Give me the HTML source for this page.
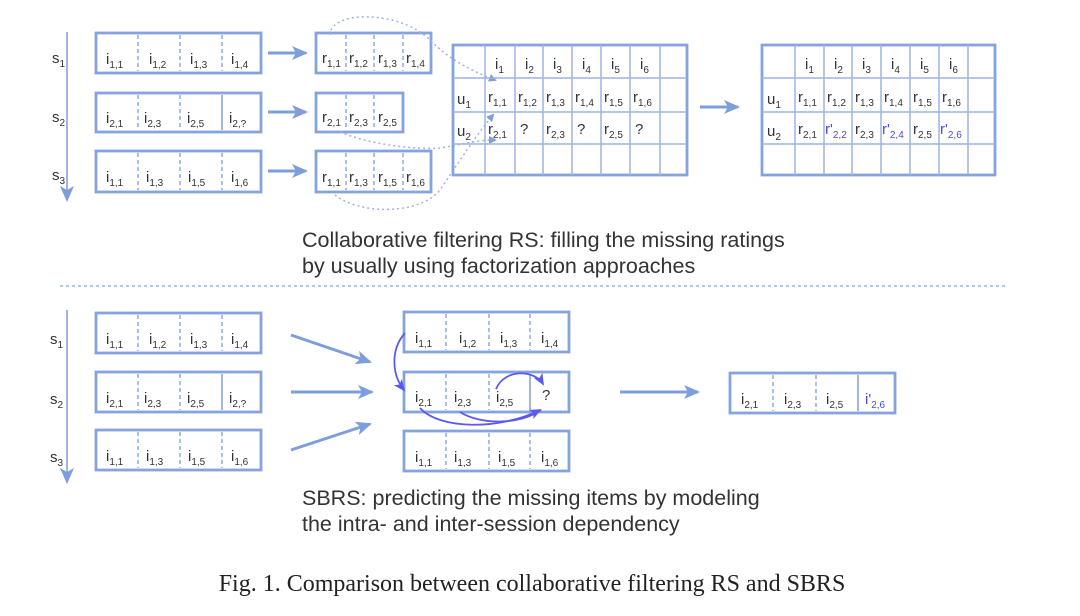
<!DOCTYPE html>
<html><head><meta charset="utf-8"><style>
html,body{margin:0;padding:0;background:#fff;}
svg{display:block;}
text{font-family:"Liberation Sans",Arial,sans-serif;fill:#333;}
.c{font-size:15px;}
.s{font-size:10px;}
.b{fill:#4a4ae8;}
.bx{fill:none;stroke:#85a3de;stroke-width:2.8;}
.dv{stroke:#7d9ddb;stroke-width:1.3;stroke-dasharray:4 3;}
.sd{stroke:#7d9ddb;stroke-width:1.5;}
.gl{stroke:#9db3e3;stroke-width:1.5;}
.ar{stroke:#7d9ddb;stroke-width:3;fill:none;}
.dot{stroke:#9db3e3;stroke-width:1.5;stroke-dasharray:2 3;fill:none;}
.pa{stroke:#5a5af0;stroke-width:1.8;fill:none;}
.cap{font-size:21.5px;}
</style></head><body>
<svg width="1080" height="616" viewBox="0 0 1080 616" xmlns="http://www.w3.org/2000/svg">
<defs>
<marker id="ah" markerWidth="8" markerHeight="8" refX="6" refY="4" orient="auto" markerUnits="userSpaceOnUse"><path d="M0,0 L8,4 L0,8 z" fill="#7d9ddb"/></marker>
<marker id="ahb" markerWidth="16" markerHeight="14" refX="14" refY="7" orient="auto" markerUnits="userSpaceOnUse"><path d="M0,0 L16,7 L0,14 L4,7 z" fill="#7d9ddb"/></marker>
<marker id="ahp" markerWidth="12" markerHeight="10" refX="10" refY="5" orient="auto" markerUnits="userSpaceOnUse"><path d="M0,0 L12,5 L0,10 L3,5 z" fill="#5a5af0"/></marker>
</defs>

<!-- TOP SECTION -->
<line x1="67" y1="32" x2="67" y2="200" class="sd" marker-end="url(#ahb)"/>
<text x="52" y="63" class="c">s<tspan class="s" dy="4">1</tspan></text>
<text x="52" y="122" class="c">s<tspan class="s" dy="4">2</tspan></text>
<text x="52" y="180" class="c">s<tspan class="s" dy="4">3</tspan></text>

<rect x="96" y="33" width="165" height="40" class="bx"/>
<line x1="138" y1="35" x2="138" y2="71" class="dv"/><line x1="180" y1="35" x2="180" y2="71" class="dv"/><line x1="222" y1="35" x2="222" y2="71" class="dv"/>
<text x="106" y="64" class="c">i<tspan class="s" dy="4">1,1</tspan></text>
<text x="149" y="64" class="c">i<tspan class="s" dy="4">1,2</tspan></text>
<text x="190" y="64" class="c">i<tspan class="s" dy="4">1,3</tspan></text>
<text x="231" y="64" class="c">i<tspan class="s" dy="4">1,4</tspan></text>

<rect x="96" y="93" width="165" height="39" class="bx"/>
<line x1="138" y1="95" x2="138" y2="130" class="dv"/><line x1="180" y1="95" x2="180" y2="130" class="dv"/><line x1="222" y1="95" x2="222" y2="130" class="sd"/>
<text x="106" y="123" class="c">i<tspan class="s" dy="4">2,1</tspan></text>
<text x="144" y="123" class="c">i<tspan class="s" dy="4">2,3</tspan></text>
<text x="187" y="123" class="c">i<tspan class="s" dy="4">2,5</tspan></text>
<text x="229" y="123" class="c">i<tspan class="s" dy="4">2,?</tspan></text>

<rect x="96" y="151" width="165" height="41" class="bx"/>
<line x1="138" y1="153" x2="138" y2="190" class="dv"/><line x1="180" y1="153" x2="180" y2="190" class="dv"/><line x1="222" y1="153" x2="222" y2="190" class="dv"/>
<text x="106" y="182" class="c">i<tspan class="s" dy="4">1,1</tspan></text>
<text x="146" y="182" class="c">i<tspan class="s" dy="4">1,3</tspan></text>
<text x="188" y="182" class="c">i<tspan class="s" dy="4">1,5</tspan></text>
<text x="231" y="182" class="c">i<tspan class="s" dy="4">1,6</tspan></text>

<line x1="268" y1="53" x2="306" y2="53" class="ar" marker-end="url(#ahb)"/>
<line x1="268" y1="112" x2="306" y2="112" class="ar" marker-end="url(#ahb)"/>
<line x1="268" y1="171" x2="306" y2="171" class="ar" marker-end="url(#ahb)"/>

<rect x="316" y="33" width="115" height="40" class="bx"/>
<line x1="346" y1="35" x2="346" y2="71" class="dv"/><line x1="374" y1="35" x2="374" y2="71" class="dv"/><line x1="403" y1="35" x2="403" y2="71" class="dv"/>
<text x="322" y="63" class="c">r<tspan class="s" dy="4">1,1</tspan></text>
<text x="349" y="63" class="c">r<tspan class="s" dy="4">1,2</tspan></text>
<text x="378" y="63" class="c">r<tspan class="s" dy="4">1,3</tspan></text>
<text x="406" y="63" class="c">r<tspan class="s" dy="4">1,4</tspan></text>

<rect x="316" y="93" width="87" height="39" class="bx"/>
<line x1="346" y1="95" x2="346" y2="130" class="dv"/><line x1="374" y1="95" x2="374" y2="130" class="dv"/>
<text x="322" y="122" class="c">r<tspan class="s" dy="4">2,1</tspan></text>
<text x="349" y="122" class="c">r<tspan class="s" dy="4">2,3</tspan></text>
<text x="378" y="122" class="c">r<tspan class="s" dy="4">2,5</tspan></text>

<rect x="316" y="151" width="115" height="41" class="bx"/>
<line x1="346" y1="153" x2="346" y2="190" class="dv"/><line x1="374" y1="153" x2="374" y2="190" class="dv"/><line x1="403" y1="153" x2="403" y2="190" class="dv"/>
<text x="322" y="182" class="c">r<tspan class="s" dy="4">1,1</tspan></text>
<text x="349" y="182" class="c">r<tspan class="s" dy="4">1,3</tspan></text>
<text x="378" y="182" class="c">r<tspan class="s" dy="4">1,5</tspan></text>
<text x="406" y="182" class="c">r<tspan class="s" dy="4">1,6</tspan></text>

<!-- dotted connectors -->
<path d="M330,35 C330,10 400,10 430,40 C450,60 470,70 495,80" class="dot" marker-end="url(#ah)"/>
<path d="M340,132 C370,145 420,150 440,148 C460,145 475,140 495,140" class="dot" marker-end="url(#ah)"/>
<path d="M335,195 C360,215 420,215 440,190 C460,160 480,130 493,115" class="dot" marker-end="url(#ah)"/>

<!-- Matrix 1 -->
<rect x="453" y="45" width="234" height="130" class="bx"/>
<g class="gl">
<line x1="485" y1="45" x2="485" y2="175"/><line x1="515" y1="45" x2="515" y2="175"/><line x1="543" y1="45" x2="543" y2="175"/><line x1="572" y1="45" x2="572" y2="175"/><line x1="601" y1="45" x2="601" y2="175"/><line x1="630" y1="45" x2="630" y2="175"/><line x1="660" y1="45" x2="660" y2="175"/>
<line x1="453" y1="78" x2="687" y2="78"/><line x1="453" y1="112" x2="687" y2="112"/><line x1="453" y1="144" x2="687" y2="144"/>
</g>
<text x="495" y="69" class="c">i<tspan class="s" dy="4">1</tspan></text>
<text x="525" y="69" class="c">i<tspan class="s" dy="4">2</tspan></text>
<text x="553" y="69" class="c">i<tspan class="s" dy="4">3</tspan></text>
<text x="582" y="69" class="c">i<tspan class="s" dy="4">4</tspan></text>
<text x="611" y="69" class="c">i<tspan class="s" dy="4">5</tspan></text>
<text x="640" y="69" class="c">i<tspan class="s" dy="4">6</tspan></text>
<text x="457" y="104" class="c">u<tspan class="s" dy="4">1</tspan></text>
<text x="488" y="102" class="c">r<tspan class="s" dy="4">1,1</tspan></text>
<text x="518" y="102" class="c">r<tspan class="s" dy="4">1,2</tspan></text>
<text x="546" y="102" class="c">r<tspan class="s" dy="4">1,3</tspan></text>
<text x="575" y="102" class="c">r<tspan class="s" dy="4">1,4</tspan></text>
<text x="604" y="102" class="c">r<tspan class="s" dy="4">1,5</tspan></text>
<text x="633" y="102" class="c">r<tspan class="s" dy="4">1,6</tspan></text>
<text x="457" y="136" class="c">u<tspan class="s" dy="4">2</tspan></text>
<text x="488" y="134" class="c">r<tspan class="s" dy="4">2,1</tspan></text>
<text x="520" y="134" class="c">?</text>
<text x="546" y="134" class="c">r<tspan class="s" dy="4">2,3</tspan></text>
<text x="577" y="134" class="c">?</text>
<text x="604" y="134" class="c">r<tspan class="s" dy="4">2,5</tspan></text>
<text x="635" y="134" class="c">?</text>

<line x1="700" y1="107" x2="738" y2="107" class="ar" marker-end="url(#ahb)"/>

<!-- Matrix 2 -->
<rect x="762" y="45" width="233" height="130" class="bx"/>
<g class="gl">
<line x1="795" y1="45" x2="795" y2="175"/><line x1="824" y1="45" x2="824" y2="175"/><line x1="852" y1="45" x2="852" y2="175"/><line x1="881" y1="45" x2="881" y2="175"/><line x1="910" y1="45" x2="910" y2="175"/><line x1="939" y1="45" x2="939" y2="175"/><line x1="968" y1="45" x2="968" y2="175"/>
<line x1="762" y1="78" x2="995" y2="78"/><line x1="762" y1="112" x2="995" y2="112"/><line x1="762" y1="144" x2="995" y2="144"/>
</g>
<text x="805" y="69" class="c">i<tspan class="s" dy="4">1</tspan></text>
<text x="834" y="69" class="c">i<tspan class="s" dy="4">2</tspan></text>
<text x="862" y="69" class="c">i<tspan class="s" dy="4">3</tspan></text>
<text x="891" y="69" class="c">i<tspan class="s" dy="4">4</tspan></text>
<text x="920" y="69" class="c">i<tspan class="s" dy="4">5</tspan></text>
<text x="949" y="69" class="c">i<tspan class="s" dy="4">6</tspan></text>
<text x="767" y="104" class="c">u<tspan class="s" dy="4">1</tspan></text>
<text x="798" y="102" class="c">r<tspan class="s" dy="4">1,1</tspan></text>
<text x="827" y="102" class="c">r<tspan class="s" dy="4">1,2</tspan></text>
<text x="855" y="102" class="c">r<tspan class="s" dy="4">1,3</tspan></text>
<text x="884" y="102" class="c">r<tspan class="s" dy="4">1,4</tspan></text>
<text x="913" y="102" class="c">r<tspan class="s" dy="4">1,5</tspan></text>
<text x="942" y="102" class="c">r<tspan class="s" dy="4">1,6</tspan></text>
<text x="767" y="136" class="c">u<tspan class="s" dy="4">2</tspan></text>
<text x="798" y="134" class="c">r<tspan class="s" dy="4">2,1</tspan></text>
<text x="825" y="134" class="c b">r'<tspan class="s b" dy="4">2,2</tspan></text>
<text x="855" y="134" class="c">r<tspan class="s" dy="4">2,3</tspan></text>
<text x="882" y="134" class="c b">r'<tspan class="s b" dy="4">2,4</tspan></text>
<text x="913" y="134" class="c">r<tspan class="s" dy="4">2,5</tspan></text>
<text x="940" y="134" class="c b">r'<tspan class="s b" dy="4">2,6</tspan></text>

<text x="302" y="247" class="cap">Collaborative filtering RS: filling the missing ratings</text>
<text x="302" y="273" class="cap">by usually using factorization approaches</text>

<line x1="60" y1="286" x2="1005" y2="286" stroke="#9db3e3" stroke-width="1.5" stroke-dasharray="3 3"/>

<!-- BOTTOM SECTION -->
<line x1="67" y1="310" x2="67" y2="482" class="sd" marker-end="url(#ahb)"/>
<text x="50" y="344" class="c">s<tspan class="s" dy="4">1</tspan></text>
<text x="50" y="404" class="c">s<tspan class="s" dy="4">2</tspan></text>
<text x="50" y="462" class="c">s<tspan class="s" dy="4">3</tspan></text>

<rect x="96" y="313" width="165" height="40" class="bx"/>
<line x1="138" y1="315" x2="138" y2="351" class="dv"/><line x1="180" y1="315" x2="180" y2="351" class="dv"/><line x1="222" y1="315" x2="222" y2="351" class="dv"/>
<text x="106" y="344" class="c">i<tspan class="s" dy="4">1,1</tspan></text>
<text x="149" y="344" class="c">i<tspan class="s" dy="4">1,2</tspan></text>
<text x="190" y="344" class="c">i<tspan class="s" dy="4">1,3</tspan></text>
<text x="231" y="344" class="c">i<tspan class="s" dy="4">1,4</tspan></text>

<rect x="96" y="372" width="165" height="40" class="bx"/>
<line x1="138" y1="374" x2="138" y2="410" class="dv"/><line x1="180" y1="374" x2="180" y2="410" class="dv"/><line x1="222" y1="374" x2="222" y2="410" class="sd"/>
<text x="106" y="403" class="c">i<tspan class="s" dy="4">2,1</tspan></text>
<text x="144" y="403" class="c">i<tspan class="s" dy="4">2,3</tspan></text>
<text x="187" y="403" class="c">i<tspan class="s" dy="4">2,5</tspan></text>
<text x="229" y="403" class="c">i<tspan class="s" dy="4">2,?</tspan></text>

<rect x="96" y="430" width="165" height="40" class="bx"/>
<line x1="138" y1="432" x2="138" y2="468" class="dv"/><line x1="180" y1="432" x2="180" y2="468" class="dv"/><line x1="222" y1="432" x2="222" y2="468" class="dv"/>
<text x="106" y="461" class="c">i<tspan class="s" dy="4">1,1</tspan></text>
<text x="146" y="461" class="c">i<tspan class="s" dy="4">1,3</tspan></text>
<text x="188" y="461" class="c">i<tspan class="s" dy="4">1,5</tspan></text>
<text x="231" y="461" class="c">i<tspan class="s" dy="4">1,6</tspan></text>

<line x1="291" y1="335" x2="370" y2="362" class="ar" marker-end="url(#ahb)"/>
<line x1="291" y1="392" x2="372" y2="392" class="ar" marker-end="url(#ahb)"/>
<line x1="291" y1="450" x2="370" y2="424" class="ar" marker-end="url(#ahb)"/>

<rect x="404" y="312" width="165" height="40" class="bx"/>
<line x1="446" y1="314" x2="446" y2="350" class="dv"/><line x1="489" y1="314" x2="489" y2="350" class="dv"/><line x1="530" y1="314" x2="530" y2="350" class="dv"/>
<text x="415" y="343" class="c">i<tspan class="s" dy="4">1,1</tspan></text>
<text x="459" y="343" class="c">i<tspan class="s" dy="4">1,2</tspan></text>
<text x="500" y="343" class="c">i<tspan class="s" dy="4">1,3</tspan></text>
<text x="541" y="343" class="c">i<tspan class="s" dy="4">1,4</tspan></text>

<rect x="404" y="372" width="165" height="40" class="bx"/>
<line x1="446" y1="374" x2="446" y2="410" class="dv"/><line x1="489" y1="374" x2="489" y2="410" class="dv"/><line x1="530" y1="374" x2="530" y2="410" class="sd"/>
<text x="415" y="402" class="c">i<tspan class="s" dy="4">2,1</tspan></text>
<text x="454" y="402" class="c">i<tspan class="s" dy="4">2,3</tspan></text>
<text x="496" y="402" class="c">i<tspan class="s" dy="4">2,5</tspan></text>
<text x="542" y="400" class="c">?</text>

<rect x="404" y="431" width="165" height="40" class="bx"/>
<line x1="446" y1="433" x2="446" y2="469" class="dv"/><line x1="489" y1="433" x2="489" y2="469" class="dv"/><line x1="530" y1="433" x2="530" y2="469" class="dv"/>
<text x="415" y="462" class="c">i<tspan class="s" dy="4">1,1</tspan></text>
<text x="454" y="462" class="c">i<tspan class="s" dy="4">1,3</tspan></text>
<text x="498" y="462" class="c">i<tspan class="s" dy="4">1,5</tspan></text>
<text x="541" y="462" class="c">i<tspan class="s" dy="4">1,6</tspan></text>

<!-- purple dependency arrows -->
<path d="M405,333 C390,350 392,375 404,390" class="pa" marker-end="url(#ahp)"/>
<path d="M496,389 C505,368 535,370 543,384" class="pa" marker-end="url(#ahp)"/>
<path d="M420,408 C440,430 500,430 540,410" class="pa" marker-end="url(#ahp)"/>
<path d="M460,412 C480,425 520,425 541,410" class="pa"/>

<line x1="620" y1="392" x2="698" y2="392" class="ar" marker-end="url(#ahb)"/>

<rect x="730" y="373" width="165" height="40" class="bx"/>
<line x1="773" y1="375" x2="773" y2="411" class="dv"/><line x1="816" y1="375" x2="816" y2="411" class="dv"/><line x1="858" y1="375" x2="858" y2="411" class="sd"/>
<text x="741" y="404" class="c">i<tspan class="s" dy="4">2,1</tspan></text>
<text x="784" y="404" class="c">i<tspan class="s" dy="4">2,3</tspan></text>
<text x="826" y="404" class="c">i<tspan class="s" dy="4">2,5</tspan></text>
<text x="865" y="404" class="c b">i'<tspan class="s b" dy="4">2,6</tspan></text>

<text x="302" y="505" class="cap">SBRS: predicting the missing items by modeling</text>
<text x="302" y="531" class="cap">the intra- and inter-session dependency</text>

<text x="532" y="591" text-anchor="middle" style="font-family:'Liberation Serif',serif;font-size:24px;fill:#222;">Fig. 1.  Comparison between collaborative filtering RS and SBRS</text>
</svg>
</body></html>
